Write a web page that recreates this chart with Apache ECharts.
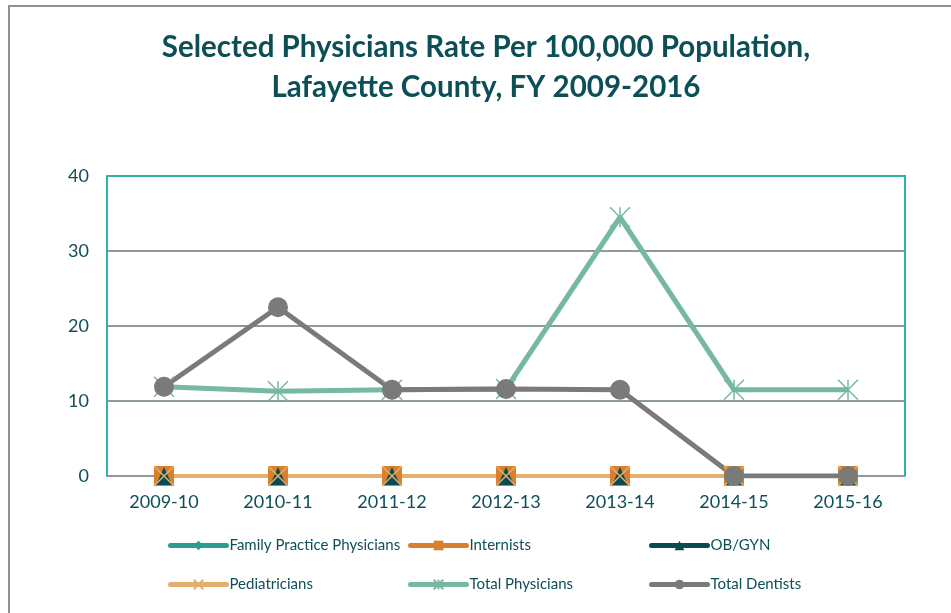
<!DOCTYPE html>
<html>
<head>
<meta charset="utf-8">
<script src="https://cdn.jsdelivr.net/npm/echarts@6/dist/echarts.min.js"></script>
<style>
html,body{margin:0;padding:0;background:#fff;}
#c{width:951px;height:613px;}
</style>
</head>
<body>
<div id="c"></div>
<script>
const categories = ['2009-10','2010-11','2011-12','2012-13','2013-14','2014-15','2015-16'];
const familyPractice = [0,0,0,0,0,0,0];
const internists = [0,0,0,0,0,0,0];
const obgyn = [0,0,0,0,0,0,0];
const pediatricians = [0,0,0,0,0,0,0];
const totalPhysicians = [11.9,11.3,11.5,11.6,34.5,11.5,11.5];
const totalDentists = [11.9,22.5,11.5,11.6,11.5,0,0];
const yTicks = {min:0, max:40, interval:10};

const txt = '#0D4F57';
const X_PATH = 'path://M0,0L10,10M10,0L0,10';
const AST_PATH = 'path://M0,0L10,10M10,0L0,10M5,0L5,10';

const chart = echarts.init(document.getElementById('c'), null, {renderer:'canvas'});
const font = 'Lato, "Open Sans", sans-serif';

function legend(name, left, top){
  return {data:[name], left:left, top:top, padding:0, itemWidth:56, itemHeight:12, itemGap:0,
    lineStyle:{width:5, cap:'round'},
    textStyle:{color:txt, fontSize:15, fontFamily:font, padding:[0,0,0,-2]}};
}

chart.setOption({
  animation:false,
  title:{text:'Selected Physicians Rate Per 100,000 Population,\nLafayette County, FY 2009-2016', left:481, textAlign:'center', top:22,
    textStyle:{color:txt, fontSize:29.5, fontWeight:'bold', fontFamily:font, lineHeight:40}},
  legend:[
    legend('Family Practice Physicians',168,538),
    legend('Internists',408,538),
    legend('OB/GYN',649,538),
    legend('Pediatricians',168,577),
    legend('Total Physicians',408,577),
    legend('Total Dentists',649,577)
  ],
  grid:{left:107, right:46, top:176, bottom:137},
  xAxis:{type:'category', data:categories, boundaryGap:true,
    axisLine:{lineStyle:{color:'#8C9A9C', width:2}}, axisTick:{show:false},
    axisLabel:{color:txt, fontSize:18, fontFamily:font, margin:17}},
  yAxis:{type:'value', min:yTicks.min, max:yTicks.max, interval:yTicks.interval,
    axisLine:{show:true, lineStyle:{color:'#2FB3A6', width:2}}, axisTick:{show:false},
    axisLabel:{color:txt, fontSize:18, fontFamily:font, margin:18},
    splitLine:{lineStyle:{color:'#8C9A9C', width:2}}},
  graphic:[
    {type:'polyline', z:100, shape:{points:[[107,176],[905,176],[905,476]]}, style:{stroke:'#2FB3A6', lineWidth:2, fill:null}},
    {type:'polyline', z:100, shape:{points:[[9,700],[9,6],[960,6]]}, style:{stroke:'#8A9496', lineWidth:2, fill:null}}
  ],
  series:[
    {name:'Family Practice Physicians', type:'line', data:familyPractice, symbol:'diamond', symbolSize:8,
      itemStyle:{color:'#2A9D8F'}, lineStyle:{color:'#2A9D8F', width:4}},
    {name:'Internists', type:'line', data:internists, symbol:'rect', symbolSize:20,
      itemStyle:{color:'#D9802E'}, lineStyle:{color:'#D9802E', width:4}},
    {name:'OB/GYN', type:'line', data:obgyn, symbol:'triangle', symbolSize:[16,18],
      itemStyle:{color:'#0B4A50'}, lineStyle:{color:'#0B4A50', width:4}},
    {name:'Pediatricians', type:'line', data:pediatricians, symbol:X_PATH, symbolSize:20,
      itemStyle:{color:'transparent', borderColor:'#E3AE6E', borderWidth:1.5}, lineStyle:{color:'#E3AE6E', width:4}},
    {name:'Total Physicians', type:'line', data:totalPhysicians, symbol:AST_PATH, symbolSize:20,
      itemStyle:{color:'transparent', borderColor:'#76B8A5', borderWidth:1.5}, lineStyle:{color:'#76B8A5', width:5}},
    {name:'Total Dentists', type:'line', data:totalDentists, symbol:'circle', symbolSize:20,
      itemStyle:{color:'#7A7A7A'}, lineStyle:{color:'#7A7A7A', width:5}}
  ]
});
</script>
</body>
</html>
